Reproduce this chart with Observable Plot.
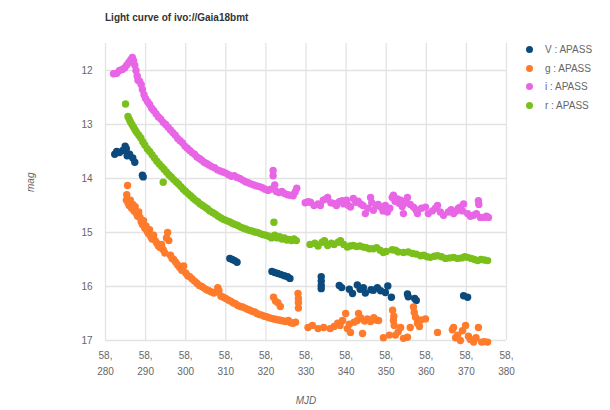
<!DOCTYPE html>
<html>
<head>
<meta charset="utf-8">
<script src="https://cdn.jsdelivr.net/npm/d3@7"></script>
<script src="https://cdn.jsdelivr.net/npm/@observablehq/plot@0.6"></script>
<style>
  html, body { margin: 0; padding: 0; background: #fff; }
  body { width: 610px; height: 410px; position: relative; overflow: hidden; font-family: "Liberation Sans", Arial, sans-serif; }
  #title { position: absolute; left: 105px; top: 12px; font-size: 10px; font-weight: bold; color: #333; white-space: nowrap; }
  #chart { position: absolute; left: 0; top: 30px; }
  #legend { position: absolute; left: 526px; top: 40px; font-size: 10px; color: #666; }
  #legend .row { height: 18.7px; display: flex; align-items: center; white-space: nowrap; }
  #legend .sw { width: 7px; height: 7px; border-radius: 50%; margin-right: 12px; }
</style>
</head>
<body>
<div id="title">Light curve of ivo://Gaia18bmt</div>
<div id="chart"></div>
<div id="legend"></div>
<script>
const titleText = "Light curve of ivo://Gaia18bmt";
const bands = ["V : APASS", "g : APASS", "i : APASS", "r : APASS"];
const bandColors = ["#0c4a7d", "#ff7b2c", "#e866e6", "#7bbf1c"];
const xTicks = [58280, 58290, 58300, 58310, 58320, 58330, 58340, 58350, 58360, 58370, 58380];
const yTicks = [12, 13, 14, 15, 16, 17];
const xLabel = "MJD";
const yLabel = "mag";

// [MJD, mag]
const vData = [
  [58282.3,13.55],[58282.8,13.5],[58283.5,13.52],[58284.3,13.48],[58284.9,13.4],[58285.2,13.45],
  [58285.4,13.58],[58286.0,13.55],[58286.8,13.62],[58287.3,13.7],[58289.2,13.94],[58289.4,13.97],
  [58311.0,15.48],[58311.6,15.5],[58312.2,15.52],[58312.8,15.55],
  [58321.5,15.72],[58322.2,15.74],[58323.0,15.76],[58323.8,15.78],[58324.6,15.8],[58325.4,15.82],[58326.0,15.85],
  [58333.8,15.82],[58333.8,15.9],[58333.8,15.98],[58333.8,16.04],
  [58338.3,15.98],[58338.9,16.02],[58340.8,16.05],[58341.6,16.13],[58342.8,15.97],[58343.5,16.05],
  [58344.3,16.02],[58344.8,16.12],[58346.2,16.06],[58346.8,16.07],[58347.8,16.02],[58348.6,16.08],
  [58349.8,16.11],[58350.4,15.99],[58351.3,16.2],[58355.3,16.14],[58355.5,16.19],[58357.1,16.22],
  [58357.5,16.26],[58369.3,16.17],[58370.3,16.2]
];
const gData = [
  [58285.5,14.13],[58285.3,14.3],[58285.2,14.4],[58285.6,14.45],[58285.9,14.5],[58286.2,14.4],
  [58286.5,14.55],[58286.8,14.48],[58287.1,14.6],[58287.4,14.52],[58287.7,14.65],[58288.0,14.7],
  [58288.3,14.62],[58288.6,14.72],[58288.9,14.8],[58289.2,14.85],[58289.5,14.78],[58289.8,14.92],
  [58290.1,14.88],[58290.4,14.98],[58290.7,15.02],[58291.0,14.95],[58291.3,15.08],[58291.6,15.12],
  [58292.0,15.05],[58292.4,15.15],[58292.8,15.2],[58293.2,15.25],[58293.6,15.28],[58294.0,15.22],
  [58294.4,15.32],[58294.8,15.38],[58295.2,15.1],[58295.5,15.0],[58295.8,15.15],[58296.2,15.42],
  [58296.6,15.48],[58297.0,15.5],[58297.5,15.55],[58298.0,15.6],[58298.5,15.65],[58299.0,15.7],
  [58299.5,15.62],[58300.0,15.75],[58300.5,15.8],[58301.0,15.82],[58301.6,15.86],[58302.2,15.9],
  [58302.8,15.94],[58303.4,15.98],[58304.0,16.0],[58304.6,16.03],[58305.2,16.06],[58305.8,16.08],
  [58306.4,16.1],[58307.0,16.12],[58307.6,16.1],[58308.0,16.02],[58308.3,16.08],[58308.8,16.18],
  [58309.4,16.2],[58310.0,16.22],[58310.6,16.25],[58311.2,16.27],[58311.8,16.3],[58312.4,16.32],
  [58313.0,16.35],[58313.6,16.37],[58314.2,16.38],[58314.8,16.4],[58315.4,16.42],[58316.0,16.44],
  [58316.6,16.46],[58317.2,16.47],[58317.8,16.5],[58318.4,16.52],[58319.0,16.53],[58319.6,16.55],
  [58320.2,16.56],[58320.8,16.58],[58321.4,16.59],[58321.9,16.2],[58322.4,16.27],[58323.0,16.3],
  [58323.6,16.37],[58322.0,16.6],[58322.6,16.61],[58323.2,16.62],[58323.8,16.63],[58324.4,16.64],
  [58325.0,16.65],[58325.6,16.63],[58326.2,16.67],[58326.8,16.68],[58327.4,16.66],
  [58328.0,16.13],[58328.1,16.22],[58328.1,16.3],[58328.1,16.4],
  [58330.5,16.76],[58331.6,16.72],[58333.0,16.78],[58334.4,16.76],[58336.0,16.78],[58337.0,16.74],
  [58337.9,16.68],[58338.5,16.72],[58339.1,16.63],[58339.9,16.5],[58340.3,16.78],[58340.8,16.7],
  [58341.1,16.85],[58342.0,16.66],[58342.8,16.63],[58343.1,16.5],[58343.6,16.58],[58344.1,16.87],
  [58344.6,16.64],[58345.3,16.6],[58346.1,16.65],[58346.9,16.58],[58347.5,16.62],[58348.1,16.63],
  [58349.3,16.95],[58350.8,16.9],[58351.6,16.44],[58351.8,16.63],[58351.9,16.55],[58352.0,16.72],
  [58352.3,16.9],[58353.0,16.84],[58353.6,16.76],[58354.3,16.96],[58355.3,16.94],[58356.0,16.76],
  [58356.8,16.38],[58357.0,16.48],[58357.3,16.57],[58357.8,16.68],[58358.3,16.74],[58358.6,16.62],
  [58359.8,16.6],[58362.8,16.85],[58366.5,16.8],[58366.8,16.76],[58367.3,16.95],[58367.8,16.9],
  [58368.5,17.0],[58369.0,16.82],[58369.8,16.72],[58370.5,16.92],[58371.0,16.98],[58371.8,17.03],
  [58372.4,16.95],[58373.0,16.76],[58373.8,17.03],[58374.5,17.02],[58375.3,17.03]
];
const iData = [
  [58282.0,12.06],[58282.8,12.05],[58283.5,12.0],[58284.2,11.98],[58284.8,11.95],[58285.3,11.9],
  [58285.8,11.85],[58286.3,11.8],[58286.7,11.76],[58287.0,11.82],[58287.3,11.9],[58287.6,12.0],
  [58287.9,12.1],[58288.1,12.18],[58288.5,12.2],[58288.9,12.26],[58289.2,12.35],[58289.6,12.45],
  [58290.0,12.52],[58290.5,12.58],[58291.0,12.63],[58291.5,12.7],[58292.0,12.74],[58292.6,12.8],
  [58293.2,12.86],[58293.8,12.9],[58294.4,12.96],[58295.0,13.0],[58295.6,13.05],[58296.2,13.1],
  [58296.8,13.15],[58297.4,13.2],[58298.0,13.26],[58298.6,13.3],[58299.2,13.34],[58299.8,13.4],
  [58300.4,13.44],[58301.0,13.48],[58301.6,13.52],[58302.2,13.55],[58302.8,13.6],[58303.4,13.63],
  [58304.0,13.66],[58304.6,13.7],[58305.2,13.72],[58305.8,13.75],[58306.5,13.78],[58307.2,13.8],
  [58307.9,13.84],[58308.6,13.86],[58309.3,13.88],[58310.0,13.9],[58310.7,13.93],[58311.4,13.96],
  [58312.1,13.95],[58312.8,13.98],[58313.5,14.0],[58314.2,14.03],[58314.9,14.06],[58315.6,14.08],
  [58316.3,14.1],[58317.0,14.12],[58317.7,14.14],[58318.4,14.15],[58319.1,14.17],[58319.8,14.2],
  [58320.5,14.22],[58321.2,14.2],[58321.8,13.85],[58321.8,13.95],[58322.2,14.12],[58322.6,14.24],
  [58323.3,14.26],[58324.0,14.24],[58324.7,14.28],[58325.4,14.3],[58326.1,14.31],[58326.8,14.32],
  [58327.3,14.25],[58327.7,14.18],
  [58329.8,14.45],[58330.5,14.43],[58331.1,14.44],[58332.0,14.5],[58333.0,14.47],[58333.6,14.5],
  [58334.3,14.4],[58335.0,14.38],[58335.4,14.35],[58336.2,14.45],[58336.9,14.46],[58337.6,14.5],
  [58338.3,14.43],[58339.0,14.41],[58339.4,14.47],[58340.1,14.4],[58340.6,14.5],[58341.1,14.53],
  [58341.8,14.37],[58342.4,14.44],[58343.0,14.42],[58343.6,14.47],[58344.2,14.5],[58344.8,14.65],
  [58345.4,14.55],[58346.1,14.35],[58346.4,14.45],[58346.8,14.59],[58347.5,14.5],[58348.0,14.48],
  [58348.6,14.53],[58349.2,14.6],[58349.8,14.5],[58350.3,14.62],[58350.9,14.55],[58351.5,14.35],
  [58351.8,14.31],[58352.2,14.42],[58352.8,14.38],[58353.2,14.46],[58353.6,14.4],[58354.0,14.52],
  [58354.3,14.65],[58355.0,14.45],[58355.3,14.35],[58356.0,14.48],[58356.8,14.53],[58357.4,14.58],
  [58357.8,14.65],[58358.8,14.55],[58359.8,14.53],[58360.5,14.65],[58361.5,14.6],[58362.3,14.55],
  [58362.8,14.5],[58363.5,14.62],[58364.3,14.68],[58365.5,14.62],[58366.2,14.58],[58366.8,14.65],
  [58367.5,14.6],[58368.0,14.55],[58368.5,14.53],[58369.0,14.6],[58369.3,14.47],[58370.3,14.65],
  [58371.0,14.7],[58371.8,14.68],[58372.5,14.65],[58373.0,14.41],[58373.1,14.48],[58373.5,14.72],
  [58374.3,14.72],[58375.0,14.7],[58375.5,14.72]
];
const rData = [
  [58285.0,12.62],[58285.6,12.85],[58285.9,12.9],[58286.2,12.95],[58286.6,13.0],[58287.0,13.05],
  [58287.4,13.1],[58287.8,13.15],[58288.3,13.2],[58288.8,13.25],[58289.3,13.32],[58289.8,13.38],
  [58290.4,13.45],[58291.0,13.5],[58291.6,13.56],[58292.2,13.62],[58292.8,13.68],[58293.4,13.73],
  [58294.0,13.78],[58294.6,13.83],[58294.4,14.07],[58295.2,13.88],[58295.8,13.93],[58296.4,13.97],
  [58297.0,14.02],[58297.6,14.06],[58298.2,14.1],[58298.8,14.15],[58299.4,14.2],[58300.0,14.24],
  [58300.6,14.28],[58301.2,14.32],[58301.8,14.36],[58302.4,14.4],[58303.0,14.43],[58303.6,14.47],
  [58304.2,14.5],[58304.8,14.53],[58305.4,14.56],[58306.0,14.6],[58306.7,14.63],[58307.4,14.66],
  [58308.1,14.7],[58308.8,14.73],[58309.5,14.76],[58310.2,14.78],[58310.9,14.8],[58311.6,14.83],
  [58312.3,14.85],[58313.0,14.87],[58313.7,14.9],[58314.4,14.92],[58315.1,14.94],[58315.8,14.96],
  [58316.5,14.97],[58317.2,14.99],[58317.9,15.0],[58318.6,15.02],[58319.3,15.04],[58320.0,15.05],
  [58320.7,15.07],[58321.4,15.1],[58322.0,14.81],[58322.2,15.05],[58322.8,15.1],[58323.4,15.08],
  [58324.0,15.12],[58324.6,15.1],[58325.2,15.14],[58325.8,15.13],[58326.4,15.15],[58327.0,15.12],
  [58327.6,15.15],
  [58331.0,15.22],[58332.2,15.2],[58333.0,15.25],[58334.0,15.18],[58334.6,15.15],[58335.4,15.24],
  [58336.3,15.2],[58337.0,15.22],[58338.0,15.18],[58338.6,15.15],[58339.4,15.22],[58340.3,15.27],
  [58341.0,15.25],[58341.8,15.24],[58342.6,15.26],[58343.4,15.25],[58344.3,15.27],[58345.0,15.28],
  [58345.8,15.3],[58346.8,15.3],[58347.6,15.28],[58348.5,15.33],[58349.3,15.37],[58350.0,15.35],
  [58351.5,15.32],[58352.3,15.33],[58353.0,15.36],[58354.3,15.37],[58355.5,15.36],[58356.6,15.39],
  [58357.5,15.4],[58358.6,15.43],[58359.4,15.42],[58360.2,15.45],[58361.0,15.46],[58362.0,15.44],
  [58362.8,15.43],[58363.8,15.45],[58364.8,15.48],[58365.8,15.47],[58366.8,15.46],[58367.8,15.48],
  [58368.8,15.47],[58369.6,15.45],[58370.3,15.46],[58371.2,15.48],[58372.0,15.5],[58372.8,15.52],
  [58373.6,15.5],[58374.5,15.51],[58375.3,15.52]
];

const series = [vData, gData, iData, rData];
const table = series.flatMap((arr, k) => arr.map(([mjd, mag]) => ({mjd, mag, band: bands[k]})));

document.getElementById("title").textContent = titleText;

const fmtThousands = d3.format(",");
const chart = Plot.plot({
  width: 610,
  height: 380,
  marginTop: 13,
  marginBottom: 70,
  marginLeft: 105,
  marginRight: 104,
  style: {fontFamily: "Liberation Sans, Arial, sans-serif", fontSize: "10px", color: "#666", background: "white"},
  x: {domain: [58280, 58380], ticks: xTicks},
  y: {domain: [17, 11.5], ticks: yTicks},
  color: {domain: bands, range: bandColors},
  marks: [
    Plot.gridX(xTicks, {stroke: "#e3e3e3", strokeOpacity: 1, strokeWidth: 1.3}),
    Plot.gridY(yTicks, {stroke: "#e3e3e3", strokeOpacity: 1, strokeWidth: 1.3}),
    Plot.axisX(xTicks, {tickSize: 0, tickPadding: 11, tickFormat: d => fmtThousands(d).split(",")[0] + ",", label: null, fill: "#666"}),
    Plot.axisX(xTicks, {tickSize: 0, tickPadding: 27, tickFormat: d => fmtThousands(d).split(",")[1], label: null, fill: "#666"}),
    Plot.axisY(yTicks, {tickSize: 0, tickPadding: 13, tickFormat: d3.format("d"), label: null, fill: "#666"}),
    Plot.dot(table, {x: "mjd", y: "mag", fill: "band", r: 3.7, stroke: "none"}),
    Plot.text([xLabel], {frameAnchor: "bottom", dy: 63, text: d => d, fill: "#666", fontStyle: "italic", fontSize: 10}),
    Plot.text([yLabel], {frameAnchor: "left", dx: -75, rotate: -90, text: d => d, fill: "#666", fontStyle: "italic", fontSize: 10})
  ]
});
document.getElementById("chart").appendChild(chart);

const legend = d3.select("#legend");
bands.forEach((b, k) => {
  const row = legend.append("div").attr("class", "row");
  row.append("div").attr("class", "sw").style("background", bandColors[k]);
  row.append("span").text(b);
});
</script>
</body>
</html>
